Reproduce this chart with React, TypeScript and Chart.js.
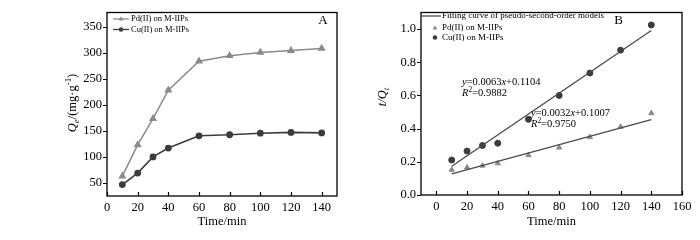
import React, { useEffect, useRef } from "react";
import { Chart, registerables } from "chart.js";

Chart.register(...registerables);

// ---------- Panel A data ----------
const timeA = [10, 20, 30, 40, 60, 80, 100, 120, 140];
const pdQe = [63, 123, 173.5, 228, 283.5, 294, 300.5, 304, 308];
const cuQe = [47, 69, 100, 117, 140.5, 142.5, 145.5, 147, 146];
const xTicksA = [0, 20, 40, 60, 80, 100, 120, 140];
const yTicksA = [50, 100, 150, 200, 250, 300, 350];

// ---------- Panel B data ----------
const timeB = [10, 20, 30, 40, 60, 80, 100, 120, 140];
const pdTQ = [0.152, 0.166, 0.177, 0.191, 0.24, 0.286, 0.349, 0.411, 0.493];
const cuTQ = [0.211, 0.265, 0.298, 0.312, 0.456, 0.6, 0.735, 0.873, 1.025];
const fitX = [10, 140];
const fitPd = [0.128, 0.454];
const fitCu = [0.173, 0.992];
const xTicksB = [0, 20, 40, 60, 80, 100, 120, 140, 160];
const yTicksB = [0, 0.2, 0.4, 0.6, 0.8, 1.0];

const labelPd = "Pd(II) on M-IIPs";
const labelCu = "Cu(II) on M-IIPs";
const labelFit = "Fitting curve of pseudo-second-order models";

const PD_COLOR = "#8a8a8a";
const CU_COLOR = "#3c3c3c";
const FIT_COLOR = "#4a4a4a";
const FONT = "'Liberation Serif', 'Times New Roman', serif";

type Seg = { t: string; italic?: boolean; sub?: boolean; sup?: boolean };

function drawSegs(ctx: CanvasRenderingContext2D, segs: Seg[], x: number, y: number, size: number, align: "left" | "center") {
  const fontFor = (s: Seg) => {
    const sz = s.sub || s.sup ? size * 0.7 : size;
    return `${s.italic ? "italic " : ""}${sz}px ${FONT}`;
  };
  let total = 0;
  for (const s of segs) {
    ctx.font = fontFor(s);
    total += ctx.measureText(s.t).width;
  }
  let cx = align === "center" ? x - total / 2 : x;
  ctx.textBaseline = "middle";
  ctx.textAlign = "left";
  for (const s of segs) {
    ctx.font = fontFor(s);
    const dy = s.sub ? size * 0.3 : s.sup ? -size * 0.35 : 0;
    ctx.fillText(s.t, cx, y + dy);
    cx += ctx.measureText(s.t).width;
  }
}

function drawMarker(ctx: CanvasRenderingContext2D, kind: string, x: number, y: number, r: number, color: string) {
  ctx.save();
  ctx.fillStyle = color;
  ctx.beginPath();
  if (kind === "triangle") {
    ctx.moveTo(x, y - r * 1.15);
    ctx.lineTo(x + r, y + r * 0.6);
    ctx.lineTo(x - r, y + r * 0.6);
    ctx.closePath();
  } else {
    ctx.arc(x, y, r, 0, Math.PI * 2);
  }
  ctx.fill();
  ctx.restore();
}

type Extra = {
  letter: string;
  letterPos: [number, number];
  yTitle: Seg[];
  yTitlePos: [number, number];
  legend: { label: string; line: boolean; marker: string | null; color: string; lineColor?: string }[];
  legendX: { lineStart: number; lineEnd: number; marker: number; text: number };
  legendY: number[];
  legendSize: number;
  notes: { segs: Seg[]; x: number; y: number }[];
  noteSize: number;
};

const framePlugin = {
  id: "framePlugin",
  afterDraw(chart: any) {
    const extra: Extra = chart.options.plugins.framePlugin;
    const ctx: CanvasRenderingContext2D = chart.ctx;
    const { left, right, top, bottom } = chart.chartArea;
    const xs = chart.scales.x;
    const ys = chart.scales.y;
    ctx.save();
    ctx.strokeStyle = "#000";
    ctx.lineWidth = 1.3;
    ctx.strokeRect(left, top, right - left, bottom - top);
    ctx.lineWidth = 1.2;
    ctx.beginPath();
    for (const t of xs.ticks) {
      const px = Math.round(xs.getPixelForValue(t.value)) + 0.5;
      ctx.moveTo(px, bottom);
      ctx.lineTo(px, bottom - 4);
    }
    for (const t of ys.ticks) {
      const py = Math.round(ys.getPixelForValue(t.value)) + 0.5;
      ctx.moveTo(left, py);
      ctx.lineTo(left - 4, py);
    }
    ctx.stroke();

    ctx.fillStyle = "#000";
    // x title
    drawSegs(ctx, [{ t: "Time/min" }], (left + right) / 2, 222, 12.5, "center");
    // y title
    ctx.save();
    ctx.translate(extra.yTitlePos[0], extra.yTitlePos[1]);
    ctx.rotate(-Math.PI / 2);
    drawSegs(ctx, extra.yTitle, 0, 0, 12.5, "center");
    ctx.restore();
    // letter
    ctx.font = `13px ${FONT}`;
    ctx.textAlign = "center";
    ctx.textBaseline = "middle";
    ctx.fillText(extra.letter, extra.letterPos[0], extra.letterPos[1]);

    // legend
    extra.legend.forEach((item, i) => {
      const y = extra.legendY[i];
      if (item.line) {
        ctx.strokeStyle = item.lineColor || item.color;
        ctx.lineWidth = 1.3;
        ctx.beginPath();
        ctx.moveTo(extra.legendX.lineStart, y);
        ctx.lineTo(extra.legendX.lineEnd, y);
        ctx.stroke();
      }
      if (item.marker) drawMarker(ctx, item.marker, extra.legendX.marker, y, 2.3, item.color);
      ctx.fillStyle = "#000";
      drawSegs(ctx, [{ t: item.label }], extra.legendX.text, y, extra.legendSize, "left");
    });

    // notes
    ctx.fillStyle = "#000";
    for (const n of extra.notes) drawSegs(ctx, n.segs, n.x, n.y, extra.noteSize, "left");
    ctx.restore();
  },
};

function axisCommon(ticks: number[], size: { w?: number; h?: number }, pad: number, fmt?: (v: number) => string) {
  return {
    type: "linear" as const,
    grid: { display: false, drawTicks: false },
    border: { display: false },
    afterBuildTicks: (s: any) => {
      s.ticks = ticks.map((v) => ({ value: v }));
    },
    afterFit: (s: any) => {
      if (size.w !== undefined) s.width = size.w;
      if (size.h !== undefined) s.height = size.h;
    },
    ticks: {
      color: "#000",
      font: { family: FONT, size: 12.5 },
      padding: pad,
      maxRotation: 0,
      autoSkip: false,
      callback: (v: any) => (fmt ? fmt(Number(v)) : String(v)),
    },
  };
}

function ChartA() {
  const ref = useRef<HTMLCanvasElement>(null);
  useEffect(() => {
    const chart = new Chart(ref.current!, {
      type: "line",
      data: {
        datasets: [
          {
            label: labelPd,
            data: timeA.map((x, i) => ({ x, y: pdQe[i] })),
            borderColor: PD_COLOR,
            backgroundColor: PD_COLOR,
            pointBackgroundColor: PD_COLOR,
            pointBorderColor: PD_COLOR,
            pointStyle: "triangle",
            pointRadius: 3.2,
            borderWidth: 1.5,
          },
          {
            label: labelCu,
            data: timeA.map((x, i) => ({ x, y: cuQe[i] })),
            borderColor: CU_COLOR,
            backgroundColor: CU_COLOR,
            pointBackgroundColor: CU_COLOR,
            pointBorderColor: CU_COLOR,
            pointStyle: "circle",
            pointRadius: 2.6,
            borderWidth: 1.6,
          },
        ],
      },
      options: {
        animation: false,
        responsive: false,
        devicePixelRatio: 1,
        layout: { padding: { top: 9, right: 13, left: 0, bottom: 0 } },
        scales: {
          x: { ...axisCommon(xTicksA, { h: 44 }, 4), min: 0, max: 150 },
          y: { ...axisCommon(yTicksA, { w: 107 }, 5), min: 25, max: 377 },
        },
        plugins: {
          legend: { display: false },
          tooltip: { enabled: false },
          framePlugin: {
            letter: "A",
            letterPos: [323, 21],
            yTitle: [
              { t: "Q", italic: true },
              { t: "e", italic: true, sub: true },
              { t: "/(mg·g" },
              { t: "-1", sup: true },
              { t: ")" },
            ],
            yTitlePos: [73, 103],
            legend: [
              { label: labelPd, line: true, marker: "triangle", color: PD_COLOR },
              { label: labelCu, line: true, marker: "circle", color: CU_COLOR },
            ],
            legendX: { lineStart: 113, lineEnd: 129, marker: 121, text: 131 },
            legendY: [19, 29.5],
            legendSize: 8.5,
            notes: [],
            noteSize: 10,
          },
        } as any,
      },
      plugins: [framePlugin],
    });
    return () => chart.destroy();
  }, []);
  return <canvas ref={ref} width={350} height={240} style={{ position: "absolute", left: 0, top: 0, width: 350, height: 240 }} />;
}

function ChartB() {
  const ref = useRef<HTMLCanvasElement>(null);
  useEffect(() => {
    const chart = new Chart(ref.current!, {
      type: "scatter",
      data: {
        datasets: [
          {
            label: labelFit + " Cu",
            type: "line",
            data: fitX.map((x, i) => ({ x, y: fitCu[i] })),
            borderColor: FIT_COLOR,
            borderWidth: 1.3,
            pointRadius: 0,
          },
          {
            label: labelFit + " Pd",
            type: "line",
            data: fitX.map((x, i) => ({ x, y: fitPd[i] })),
            borderColor: FIT_COLOR,
            borderWidth: 1.3,
            pointRadius: 0,
          },
          {
            label: labelPd,
            data: timeB.map((x, i) => ({ x, y: pdTQ[i] })),
            backgroundColor: PD_COLOR,
            borderColor: PD_COLOR,
            pointStyle: "triangle",
            pointRadius: 3,
          },
          {
            label: labelCu,
            data: timeB.map((x, i) => ({ x, y: cuTQ[i] })),
            backgroundColor: CU_COLOR,
            borderColor: CU_COLOR,
            pointStyle: "circle",
            pointRadius: 3,
          },
        ],
      },
      options: {
        animation: false,
        responsive: false,
        devicePixelRatio: 1,
        layout: { padding: { top: 8, right: 18, left: 0, bottom: 0 } },
        scales: {
          x: { ...axisCommon(xTicksB, { h: 45 }, 4), min: -10, max: 160 },
          y: { ...axisCommon(yTicksB, { w: 71 }, 5, (v) => v.toFixed(1)), min: 0, max: 1.1 },
        },
        plugins: {
          legend: { display: false },
          tooltip: { enabled: false },
          framePlugin: {
            letter: "B",
            letterPos: [268.5, 20.5],
            yTitle: [
              { t: "t/Q", italic: true },
              { t: "t", italic: true, sub: true },
            ],
            yTitlePos: [33, 97],
            legend: [
              { label: labelFit, line: true, marker: null, color: FIT_COLOR },
              { label: labelPd, line: false, marker: "triangle", color: PD_COLOR },
              { label: labelCu, line: false, marker: "circle", color: CU_COLOR },
            ],
            legendX: { lineStart: 72, lineEnd: 91, marker: 85, text: 92 },
            legendY: [16, 28, 37.5],
            legendSize: 9,
            notes: [
              {
                segs: [{ t: "y", italic: true }, { t: "=0.0063" }, { t: "x", italic: true }, { t: "+0.1104" }],
                x: 112,
                y: 82,
              },
              { segs: [{ t: "R", italic: true }, { t: "2", sup: true }, { t: "=0.9882" }], x: 112, y: 93.5 },
              {
                segs: [{ t: "y", italic: true }, { t: "=0.0032" }, { t: "x", italic: true }, { t: "+0.1007" }],
                x: 181,
                y: 113,
              },
              { segs: [{ t: "R", italic: true }, { t: "2", sup: true }, { t: "=0.9750" }], x: 181, y: 124.5 },
            ],
            noteSize: 10.5,
          },
        } as any,
      },
      plugins: [framePlugin],
    });
    return () => chart.destroy();
  }, []);
  return <canvas ref={ref} width={350} height={240} style={{ position: "absolute", left: 350, top: 0, width: 350, height: 240 }} />;
}

export default function App() {
  return (
    <div style={{ position: "fixed", left: 0, top: 0, width: 700, height: 240, background: "#fff" }}>
      <ChartA />
      <ChartB />
    </div>
  );
}
